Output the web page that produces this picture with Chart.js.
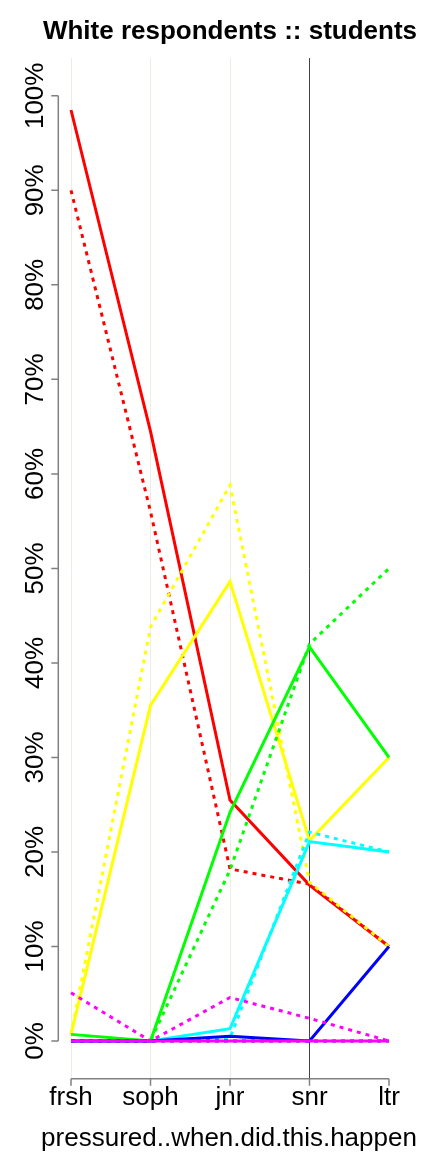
<!DOCTYPE html>
<html>
<head>
<meta charset="utf-8">
<style>
  html, body { margin: 0; padding: 0; background: #fff; }
  canvas { display: block; }
</style>
<script src="https://cdn.jsdelivr.net/npm/chart.js@4/dist/chart.umd.min.js"></script>
</head>
<body>
<canvas id="chart" width="432" height="1152"></canvas>
<script>
// categories along the x axis
const categories = ['frsh', 'soph', 'jnr', 'snr', 'ltr'];
// y ticks, in percent
const yTicks = [0, 10, 20, 30, 40, 50, 60, 70, 80, 90, 100];

// series values (percent), solid and dotted for each colour
const redSolid      = [98.5, 64.5, 25.5, 16.5, 10];
const redDotted     = [90, 56, 18.2, 16.6, 10];
const yellowSolid   = [0.7, 35.5, 48.6, 21.2, 30];
const yellowDotted  = [0.7, 43.8, 58.8, 16.8, 10];
const greenSolid    = [0.7, 0, 24.2, 41.7, 30];
const greenDotted   = [0, 0, 18.1, 42, 50];
const cyanSolid     = [0, 0, 1.3, 21.1, 20];
const cyanDotted    = [0, 0, 0.3, 22.1, 20];
const blueSolid     = [0, 0, 0.5, 0, 10];
const blueDotted    = [0, 0, 0, 0, 0];
const magentaSolid  = [0, 0, 0, 0, 0];
const magentaDotted = [5.1, 0, 4.6, 2.4, 0];

const title = 'White respondents :: students';
const xTitle = 'pressured..when.did.this.happen';
const FONT = '"Liberation Sans", Arial, Helvetica, sans-serif';

// drawing order as in the R plot: first listed ends up underneath
const series = [
  [redSolid, '#ff0000', false], [redDotted, '#ff0000', true],
  [yellowSolid, '#ffff00', false], [yellowDotted, '#ffff00', true],
  [greenSolid, '#00ff00', false], [greenDotted, '#00ff00', true],
  [cyanSolid, '#00ffff', false], [cyanDotted, '#00ffff', true],
  [blueSolid, '#0000ff', false], [blueDotted, '#0000ff', true],
  [magentaSolid, '#ff00ff', false], [magentaDotted, '#ff00ff', true],
];

const datasets = series.map(([vals, color, dotted], i) => ({
  data: vals.map((v, k) => ({ x: k + 1, y: v })),
  borderColor: color,
  borderWidth: 3,
  borderDash: dotted ? [4, 5] : [],
  pointRadius: 0,
  tension: 0,
  fill: false,
  order: series.length - i,
}));

// grid colour per category line (snr is the dark reference line)
const gridColors = ['#eeeee0', '#eeeee0', '#eeeee0', '#444444', 'rgba(0,0,0,0)'];

// axes, tick labels and titles drawn R-style
const rAxes = {
  id: 'rAxes',
  afterDraw(chart) {
    const { ctx, scales: { x, y } } = chart;
    ctx.save();
    ctx.fillStyle = '#000';

    ctx.font = `bold 26px ${FONT}`;
    ctx.textAlign = 'center';
    ctx.textBaseline = 'alphabetic';
    ctx.fillText(title, 230, 39);

    // y axis
    ctx.strokeStyle = '#808080';
    ctx.lineWidth = 1.5;
    const y0 = y.getPixelForValue(0), y1 = y.getPixelForValue(100);
    const ax = y.right;
    ctx.beginPath();
    ctx.moveTo(ax, y0); ctx.lineTo(ax, y1);
    yTicks.forEach(t => {
      const py = y.getPixelForValue(t);
      ctx.moveTo(ax, py); ctx.lineTo(ax - 7, py);
    });
    ctx.stroke();
    ctx.font = `26px ${FONT}`;
    yTicks.forEach(t => {
      const py = y.getPixelForValue(t);
      ctx.save();
      ctx.translate(43, py);
      ctx.rotate(-Math.PI / 2);
      ctx.textAlign = 'center';
      ctx.textBaseline = 'alphabetic';
      ctx.fillText(t + '%', 0, 0);
      ctx.restore();
    });

    // x axis
    const bx = x.top;
    const x0 = x.getPixelForValue(1), x1 = x.getPixelForValue(5);
    ctx.beginPath();
    ctx.moveTo(x0, bx); ctx.lineTo(x1, bx);
    categories.forEach((c, k) => {
      const px = x.getPixelForValue(k + 1);
      ctx.moveTo(px, bx); ctx.lineTo(px, bx + 7);
    });
    ctx.stroke();
    ctx.textAlign = 'center';
    ctx.textBaseline = 'alphabetic';
    categories.forEach((c, k) => {
      ctx.fillText(c, x.getPixelForValue(k + 1), 1105);
    });
    ctx.fillText(xTitle, 229, 1146);
    ctx.restore();
  }
};

new Chart(document.getElementById('chart'), {
  type: 'line',
  data: { datasets },
  options: {
    responsive: false,
    animation: false,
    devicePixelRatio: 1,
    layout: { padding: { left: 0, top: 58, right: 30.3, bottom: 0 } },
    plugins: { legend: { display: false }, tooltip: { enabled: false }, title: { display: false } },
    scales: {
      x: {
        type: 'linear',
        min: 0.84,
        max: 5.16,
        afterBuildTicks: s => { s.ticks = categories.map((c, k) => ({ value: k + 1 })); },
        afterFit: s => { s.height = 1152 - 1078.8; },
        ticks: { display: false },
        border: { display: false },
        grid: {
          drawTicks: false,
          lineWidth: 1,
          color: c => gridColors[c.index] || 'rgba(0,0,0,0)',
        },
      },
      y: {
        type: 'linear',
        min: -4,
        max: 104,
        afterBuildTicks: s => { s.ticks = yTicks.map(v => ({ value: v })); },
        afterFit: s => { s.width = 58.3; },
        ticks: { display: false },
        border: { display: false },
        grid: { display: false, drawTicks: false },
      },
    },
  },
  plugins: [rAxes],
});
</script>
</body>
</html>
